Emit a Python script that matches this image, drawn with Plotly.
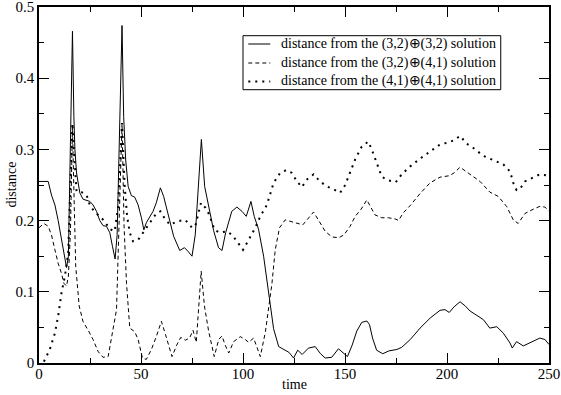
import plotly.graph_objects as go

# solid: distance from the (3,2)+(3,2) solution
time_a = [0, 4.5, 6.1, 7.8, 9.4, 11.0, 12.7, 13.5, 14.4, 15.4, 16.4, 17.1, 17.6, 18.4, 20.0,
          21.6, 23.3, 24.9, 26.5, 28.2, 29.8, 31.4, 33.1, 34.7, 36.0, 37.3, 38.3, 39.3, 40.7,
          41.5, 42.5, 43.7, 45.3, 46.9, 48.6, 50.2, 51.4, 52.6, 54.3, 55.9, 57.5, 59.5, 61.1,
          63.6, 66.0, 69.0, 71.3, 73.0, 75.0, 76.6, 78.0, 79.6, 81.2, 83.2, 85.6, 88.0, 89.7,
          91.5, 94.5, 97.0, 99.5, 101.6, 103.9, 105.5, 107.6, 110.1, 112.5, 115.0, 117.5, 120.0,
          122.5, 124.8, 126.8, 129.0, 132.1, 135.4, 138.0, 140.3, 143.5, 146.8, 149.0, 151.2,
          153.5, 155.8, 158.2, 160.7, 162.0, 163.5, 165.5, 168.5, 171.5, 175.4, 177.8, 182.0,
          186.8, 191.7, 196.6, 199.0, 201.1, 203.5, 206.4, 209.0, 211.3, 217.8, 221.0, 224.4,
          227.6, 230.9, 232.0, 234.1, 237.4, 241.5, 245.5, 248.0, 250.0]
dist_a = [0.255, 0.255, 0.236, 0.222, 0.200, 0.173, 0.147, 0.134, 0.150, 0.300, 0.466, 0.346,
          0.300, 0.267, 0.239, 0.230, 0.229, 0.227, 0.222, 0.213, 0.200, 0.193, 0.192, 0.183,
          0.164, 0.146, 0.180, 0.300, 0.474, 0.346, 0.285, 0.248, 0.235, 0.233, 0.222, 0.204,
          0.187, 0.197, 0.206, 0.213, 0.225, 0.246, 0.234, 0.206, 0.178, 0.158, 0.162, 0.157,
          0.150, 0.180, 0.250, 0.314, 0.248, 0.222, 0.186, 0.162, 0.158, 0.183, 0.213, 0.219,
          0.213, 0.206, 0.227, 0.206, 0.188, 0.150, 0.100, 0.048, 0.023, 0.019, 0.015, 0.007,
          0.018, 0.012, 0.021, 0.023, 0.013, 0.007, 0.008, 0.020, 0.015, 0.009, 0.025, 0.045,
          0.057, 0.059, 0.054, 0.035, 0.018, 0.013, 0.017, 0.019, 0.022, 0.033, 0.049, 0.063,
          0.074, 0.075, 0.071, 0.079, 0.086, 0.080, 0.073, 0.061, 0.049, 0.051, 0.042, 0.028,
          0.021, 0.030, 0.024, 0.029, 0.035, 0.033, 0.026]

# dashed: distance from the (3,2)+(4,1) solution
time_b = [0, 2.4, 4.5, 6.1, 7.8, 9.4, 11.0, 12.2, 13.5, 14.4, 15.4, 16.4, 17.1, 18.0, 19.7,
          21.6, 24.1, 26.5, 29.0, 31.4, 33.9, 36.0, 38.0, 39.6, 40.7, 41.7, 42.9, 44.5, 46.9,
          48.6, 50.7, 52.6, 55.1, 57.5, 60.0, 62.0, 65.2, 67.5, 69.5, 71.7, 73.8, 75.5, 77.1,
          79.5, 81.1, 83.2, 85.9, 88.1, 89.7, 91.3, 93.0, 95.4, 98.7, 101.1, 102.8, 105.2,
          106.8, 108.5, 111.0, 112.6, 114.2, 115.8, 117.9, 120.7, 124.8, 129.3, 134.6, 137.0,
          140.3, 143.6, 147.0, 149.5, 152.5, 155.0, 157.9, 160.7, 162.5, 164.7, 168.0, 171.3,
          175.0, 176.2, 178.6, 181.9, 186.8, 191.7, 196.6, 201.1, 203.5, 206.4, 211.3, 216.2,
          221.0, 225.1, 229.2, 232.5, 234.9, 238.2, 242.3, 245.5, 248.0, 250.0]
dist_b = [0.190, 0.196, 0.192, 0.180, 0.159, 0.140, 0.126, 0.112, 0.108, 0.122, 0.183, 0.332,
          0.243, 0.136, 0.080, 0.058, 0.046, 0.033, 0.016, 0.008, 0.009, 0.042, 0.075, 0.230,
          0.337, 0.192, 0.112, 0.049, 0.044, 0.033, 0.007, 0.005, 0.019, 0.037, 0.0585, 0.040,
          0.009, 0.025, 0.036, 0.032, 0.035, 0.046, 0.029, 0.129, 0.080, 0.044, 0.009, 0.033,
          0.038, 0.025, 0.014, 0.030, 0.037, 0.033, 0.029, 0.035, 0.023, 0.009, 0.044, 0.080,
          0.112, 0.159, 0.190, 0.201, 0.198, 0.194, 0.212, 0.200, 0.185, 0.177, 0.176, 0.180,
          0.192, 0.206, 0.216, 0.229, 0.220, 0.208, 0.204, 0.204, 0.202, 0.200, 0.211, 0.221,
          0.238, 0.253, 0.261, 0.263, 0.267, 0.275, 0.265, 0.255, 0.240, 0.234, 0.220, 0.201,
          0.196, 0.210, 0.216, 0.220, 0.219, 0.213]

# dotted: distance from the (4,1)+(4,1) solution
time_c = [2.4, 5.3, 7.8, 9.4, 11.0, 12.7, 14.3, 15.1, 16.4, 17.1, 18.4, 20.8, 23.3, 24.9,
          27.3, 29.8, 32.2, 34.7, 37.1, 38.8, 40.7, 42.0, 43.2, 44.5, 46.1, 48.6, 51.0, 54.3,
          57.5, 59.5, 62.0, 64.4, 67.6, 71.7, 75.0, 76.6, 77.8, 79.4, 81.6, 83.5, 86.0, 88.5,
          92.1, 94.6, 97.0, 100.0, 102.8, 106.0, 108.5, 111.7, 115.0, 118.2, 121.2, 124.0,
          126.4, 128.9, 131.0, 134.6, 137.8, 141.1, 144.4, 147.6, 150.1, 152.5, 155.0, 158.2,
          161.4, 163.1, 165.6, 168.0, 170.5, 174.9, 177.8, 181.9, 186.8, 191.7, 196.6, 201.1,
          203.5, 206.4, 209.7, 212.9, 217.8, 222.7, 227.6, 230.9, 232.5, 234.1, 235.7, 238.2,
          242.3, 245.5, 248.0, 250.0]
dist_c = [0.002, 0.019, 0.042, 0.066, 0.098, 0.122, 0.154, 0.229, 0.337, 0.300, 0.241, 0.240,
          0.236, 0.222, 0.212, 0.206, 0.199, 0.188, 0.185, 0.220, 0.337, 0.248, 0.206, 0.183,
          0.171, 0.173, 0.183, 0.197, 0.210, 0.213, 0.201, 0.194, 0.199, 0.201, 0.190, 0.192,
          0.206, 0.225, 0.218, 0.208, 0.187, 0.183, 0.185, 0.180, 0.171, 0.159, 0.173, 0.190,
          0.206, 0.222, 0.253, 0.267, 0.271, 0.267, 0.255, 0.247, 0.257, 0.265, 0.255, 0.248,
          0.244, 0.239, 0.250, 0.267, 0.286, 0.304, 0.311, 0.300, 0.280, 0.262, 0.257, 0.254,
          0.265, 0.276, 0.287, 0.297, 0.307, 0.310, 0.313, 0.319, 0.308, 0.302, 0.291, 0.285,
          0.279, 0.269, 0.253, 0.243, 0.244, 0.255, 0.260, 0.265, 0.264, 0.261]

labels = [
    "distance from the (3,2)\u2295(3,2) solution",
    "distance from the (3,2)\u2295(4,1) solution",
    "distance from the (4,1)\u2295(4,1) solution",
]

FONT = '"Liberation Serif", "Times New Roman", serif'
W, H = 561, 395
L, R, T, B = 38.5, 12, 7.3, 31.7
PW, PH = W - L - R, H - T - B


def px(x):  # page pixel -> paper x
    return (x - L) / PW


def py(y):  # page pixel -> paper y
    return (H - B - y) / PH


lines = [
    dict(color="black", width=1),
    dict(color="black", width=1, dash="4px,3px"),
    dict(color="black", width=2, dash="2px,5px"),
]

fig = go.Figure()
for t, d, name, ln in zip([time_a, time_b, time_c], [dist_a, dist_b, dist_c], labels, lines):
    fig.add_trace(go.Scatter(x=t, y=d, mode="lines", name=name, line=ln, showlegend=False))

axis_style = dict(
    showgrid=False, zeroline=False, showline=True, linecolor="black", linewidth=1.5,
    mirror="allticks", ticks="inside", ticklen=10, tickwidth=1, tickcolor="black",
    tickfont=dict(size=15, color="black", family=FONT), automargin=False,
    ticklabeloverflow="allow",
)
fig.update_xaxes(range=[0, 250], dtick=50, ticklabelstandoff=-4,
                 minor=dict(ticks="inside", ticklen=5, dtick=25, tickcolor="black"),
                 **axis_style)
fig.update_yaxes(range=[0, 0.5], dtick=0.1,
                 minor=dict(ticks="inside", ticklen=5, dtick=0.05, tickcolor="black"),
                 **axis_style)

# axis titles
fig.add_annotation(text="time", x=0.5, y=py(385), xref="paper", yref="paper",
                   xanchor="center", yanchor="middle", showarrow=False,
                   font=dict(size=14, family=FONT, color="black"))
fig.add_annotation(text="distance", x=px(10), y=0.5, xref="paper", yref="paper",
                   xanchor="center", yanchor="middle", textangle=-90, showarrow=False,
                   font=dict(size=14, family=FONT, color="black"))

# legend box drawn by hand, xmgrace style
fig.add_shape(type="rect", xref="paper", yref="paper",
              x0=px(242.7), x1=px(500.7), y0=py(90), y1=py(36),
              line=dict(color="black", width=1), fillcolor="white", layer="above")
rows = [44.3, 63.3, 81.7]
for yy, name, ln in zip(rows, labels, lines):
    fig.add_shape(type="line", xref="paper", yref="paper",
                  x0=px(248), x1=px(270), y0=py(yy), y1=py(yy), line=ln, layer="above")
    fig.add_annotation(text=name, x=px(279), y=py(yy), xref="paper", yref="paper",
                       xanchor="left", yanchor="middle", showarrow=False,
                       font=dict(size=14, family=FONT, color="black"))

fig.update_layout(
    width=W, height=H,
    margin=dict(l=L, r=R, t=T, b=B, pad=0),
    plot_bgcolor="white", paper_bgcolor="white",
    font=dict(family=FONT, color="black", size=14),
    showlegend=False,
)

fig.write_html("out.html", config={"displayModeBar": False},
               post_script="document.body.style.margin='0px';")
